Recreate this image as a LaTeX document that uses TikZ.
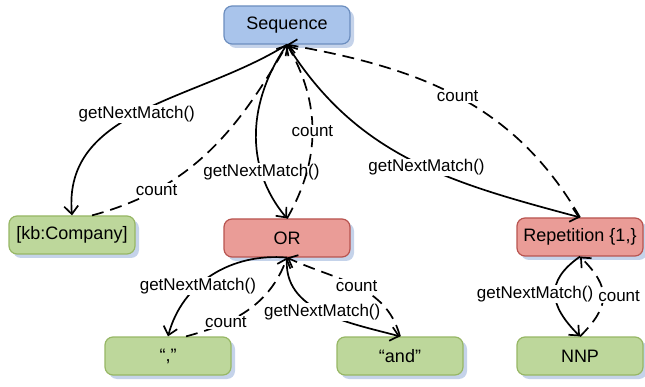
\documentclass[tikz,border=0pt]{standalone}
\usepackage{fontspec}
\setmainfont{Liberation Sans}
\usetikzlibrary{arrows.meta,shadows}
\definecolor{seqfill}{HTML}{A9C4EB}
\definecolor{seqline}{HTML}{6C8EBF}
\definecolor{opfill}{HTML}{EA9C97}
\definecolor{opline}{HTML}{B85450}
\definecolor{leaffill}{HTML}{BDD79B}
\definecolor{leafline}{HTML}{97B765}
\definecolor{shadowc}{HTML}{C5D3EA}

\begin{document}
\begin{tikzpicture}[x=1pt, y=1pt,
  box/.style={rectangle, rounded corners=8pt, draw, line width=1.2pt,
    minimum width=126pt, minimum height=38pt, font=\fontsize{18}{21}\selectfont,
    copy shadow={shadow xshift=4pt, shadow yshift=-4pt, fill=shadowc, draw=none}},
  seqbox/.style={box, fill=seqfill, draw=seqline},
  opbox/.style={box, fill=opfill, draw=opline},
  leafbox/.style={box, fill=leaffill, draw=leafline},
  call/.style={-{Straight Barb[length=8pt,width=14pt]}, line width=1.7pt},
  ret/.style={call, dash pattern=on 12pt off 7pt},
  lbl/.style={fill=white, inner sep=1pt, font=\fontsize{17}{20}\selectfont}]
  \useasboundingbox (0,0) rectangle (645,-387);

  % Top
  \node[seqbox] (seq) at (287,-25) {Sequence};

  % Middle row
  \node[leafbox] (kb) at (72,-235) {[kb:Company]};
  \node[opbox] (alt) at (287,-238) {OR};
  \node[opbox] (rep) at (580,-237) {Repetition \{1,\}};

  % Bottom row
  \node[leafbox] (comma) at (168,-356) {“,”};
  \node[leafbox] (andw) at (400,-356) {“and”};
  \node[leafbox] (nnp) at (580,-356) {NNP};

  % Sequence calls
  \draw[call] (seq.south) to[out=212,in=95] node[lbl,pos=0.52] {getNextMatch()} (kb.north);
  \draw[ret] ([xshift=20pt]kb.north) to[out=15,in=240] node[lbl,pos=0.25] {count} (seq.south);
  \draw[call] (seq.south) to[out=235,in=130] node[lbl,pos=0.72] {getNextMatch()} (alt.north);
  \draw[ret] (alt.north) to[out=60,in=-60] node[lbl,pos=0.5] {count} (seq.south);
  \draw[call] (seq.south) to[out=-58,in=165] node[lbl,pos=0.55] {getNextMatch()} (rep.north);
  \draw[ret] (rep.north) to[out=120,in=-10] node[lbl,pos=0.5] {count} (seq.south);

  % OR calls
  \draw[call] (alt.south) to[out=175,in=75] node[lbl,pos=0.62] {getNextMatch()} (comma.north);
  \draw[ret] ([xshift=18pt]comma.north) to[out=15,in=250] node[lbl,pos=0.3] {count} (alt.south);
  \draw[call] (alt.south) to[out=265,in=165] node[lbl,pos=0.5] {getNextMatch()} (andw.north);
  \draw[ret] (andw.north) to[out=105,in=-25] node[lbl,pos=0.5] {count} (alt.south);

  % Repetition calls
  \draw[call] (rep.south) to[out=215,in=135,looseness=1.4] node[lbl,pos=0.5,xshift=-20pt] {getNextMatch()} (nnp.north);
  \draw[ret] (nnp.north) to[out=45,in=-45,looseness=1.4] node[lbl,pos=0.5,xshift=16pt] {count} (rep.south);
\end{tikzpicture}
\end{document}
